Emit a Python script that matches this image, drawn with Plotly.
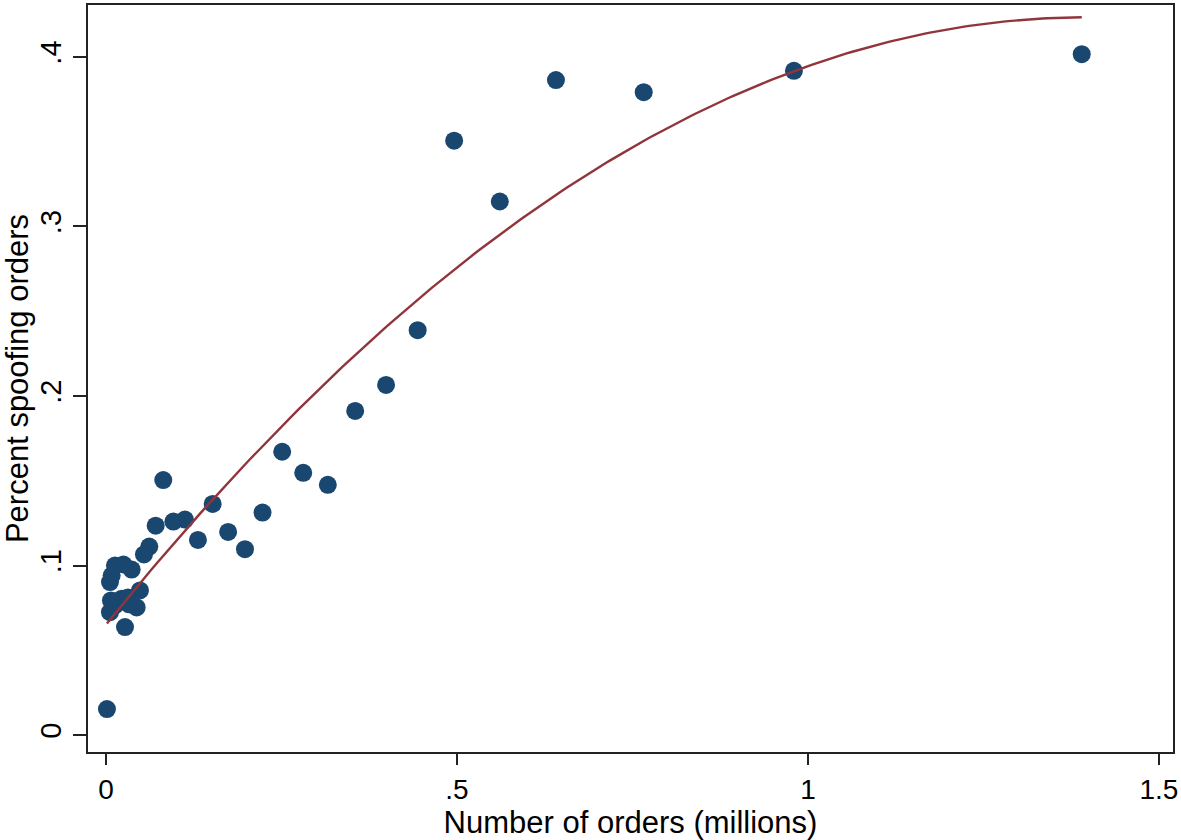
import numpy as np
import plotly.graph_objects as go

# Number of orders (millions)
orders_m = [1.39, 0.98, 0.766, 0.641, 0.561, 0.496, 0.444, 0.399, 0.355, 0.316,
            0.281, 0.251, 0.223, 0.198, 0.174, 0.152, 0.131, 0.1125, 0.096, 0.0816,
            0.0708, 0.0617, 0.0541, 0.0484, 0.0437, 0.0366, 0.0014, 0.0128, 0.0249,
            0.0081, 0.0057, 0.0057, 0.0071, 0.0224, 0.0328, 0.0271, 0.0128, 0.0313]
# Percent spoofing orders
pct_spoof = [0.4016, 0.3918, 0.3792, 0.3863, 0.3147, 0.3506, 0.2388, 0.2065, 0.1912, 0.1476,
             0.1547, 0.1671, 0.1312, 0.1096, 0.1198, 0.1363, 0.1151, 0.1271, 0.1259, 0.1504,
             0.1235, 0.1112, 0.1065, 0.0853, 0.0753, 0.0976, 0.0153, 0.1000, 0.1006,
             0.0941, 0.0902, 0.0725, 0.0794, 0.0804, 0.0771, 0.0637, 0.0765, 0.0812]

x_ticks = [0, 0.5, 1, 1.5]
x_tick_labels = ["0", ".5", "1", "1.5"]
y_ticks = [0, 0.1, 0.2, 0.3, 0.4]
y_tick_labels = ["0", ".1", ".2", ".3", ".4"]

# quadratic fit (like Stata qfit)
coef = np.polyfit(orders_m, pct_spoof, 2)
xf = np.linspace(min(orders_m), max(orders_m), 200)
yf = np.polyval(coef, xf)

fig = go.Figure()
fig.add_trace(go.Scatter(x=orders_m, y=pct_spoof, mode="markers",
                         marker=dict(size=18, color="#1a476f", line=dict(width=0)),
                         showlegend=False))
fig.add_trace(go.Scatter(x=xf, y=yf, mode="lines",
                         line=dict(color="#90353b", width=2.4), showlegend=False))

font = "Liberation Sans, Arial, sans-serif"
fig.update_layout(
    width=1181, height=840,
    margin=dict(l=88, r=8, t=3, b=88),
    paper_bgcolor="white", plot_bgcolor="white",
    font=dict(family=font, color="black", size=28),
    xaxis=dict(range=[-0.0256, 1.52], tickvals=x_ticks, ticktext=x_tick_labels,
               showgrid=False, zeroline=False, showline=True, mirror=True,
               linecolor="#222", linewidth=2, ticks="outside", ticklen=11,
               tickwidth=1.5, tickcolor="#222",
               tickfont=dict(size=28),
               title=dict(text="Number of orders (millions)", font=dict(size=31), standoff=4)),
    yaxis=dict(range=[-0.01, 0.4306], tickvals=y_ticks, ticktext=y_tick_labels,
               showgrid=False, zeroline=False, showline=True, mirror=True,
               linecolor="#222", linewidth=2, ticks="outside", ticklen=13,
               tickwidth=1.5, tickcolor="#222", tickangle=-90,
               tickfont=dict(size=29),
               title=dict(text="Percent spoofing orders", font=dict(size=31), standoff=2)),
)
fig.write_html("out.html", config={"displayModeBar": False},
               post_script="document.body.style.margin='0';document.body.style.overflow='hidden';")
